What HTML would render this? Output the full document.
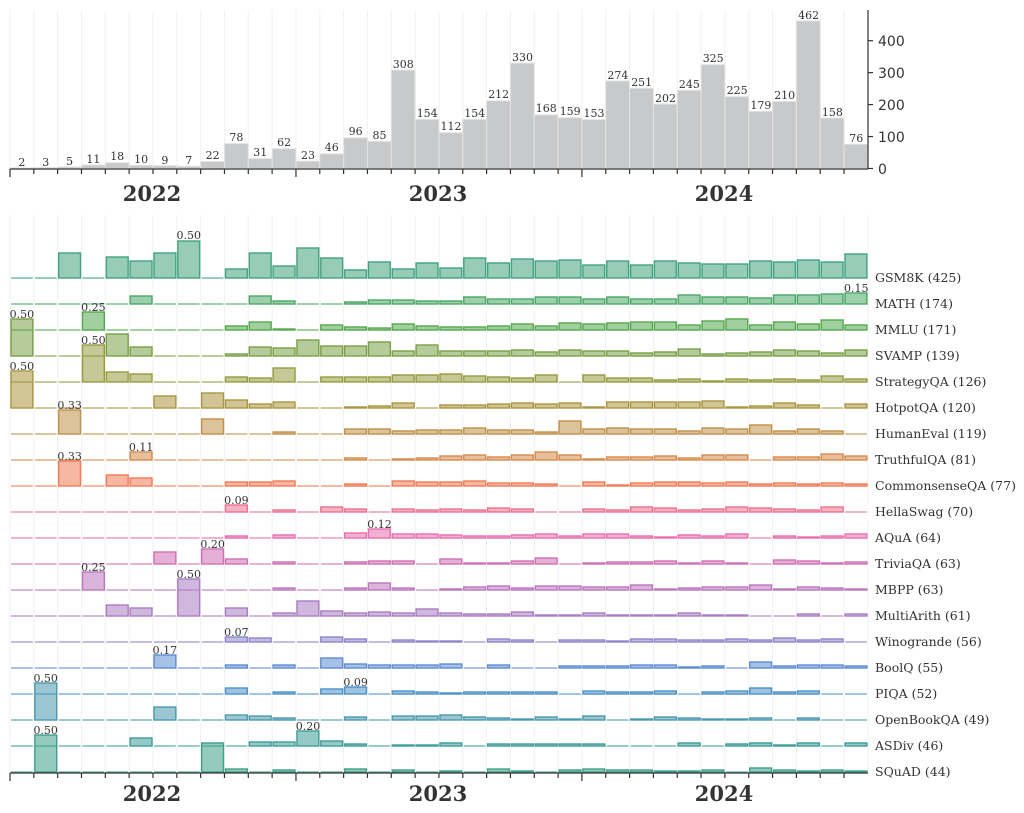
<!DOCTYPE html>
<html><head><meta charset="utf-8"><style>
html,body{margin:0;padding:0;background:#fff;}
svg{display:block;}
text{font-family:"DejaVu Serif","Liberation Serif",serif;fill:#333;}
.v{font-size:11px;text-anchor:middle;}
.r{font-size:12.5px;}
.y{font-size:21px;font-weight:bold;text-anchor:middle;}
.t{font-family:"DejaVu Sans","Liberation Sans",sans-serif;font-size:14px;}
</style></head><body>
<svg id="s" width="1024" height="813" viewBox="0 0 1024 813" xmlns="http://www.w3.org/2000/svg">
<g id="grid"></g>
<g id="top"></g>
<g id="rows"></g>
<g id="axes" stroke="#333" stroke-width="1.2" fill="none"></g>
<g>
<text class="v" x="21.9" y="166">2</text><text class="v" x="45.7" y="166">3</text><text class="v" x="69.6" y="165">5</text><text class="v" x="93.4" y="163">11</text><text class="v" x="117.2" y="160">18</text><text class="v" x="141.1" y="163">10</text><text class="v" x="164.9" y="164">9</text><text class="v" x="188.8" y="164">7</text><text class="v" x="212.6" y="159">22</text><text class="v" x="236.4" y="141">78</text><text class="v" x="260.3" y="156">31</text><text class="v" x="284.1" y="146">62</text><text class="v" x="308" y="159">23</text><text class="v" x="331.8" y="151">46</text><text class="v" x="355.6" y="135">96</text><text class="v" x="379.5" y="139">85</text><text class="v" x="403.3" y="68">308</text><text class="v" x="427.2" y="117">154</text><text class="v" x="451" y="130">112</text><text class="v" x="474.8" y="117">154</text><text class="v" x="498.7" y="98">212</text><text class="v" x="522.5" y="61">330</text><text class="v" x="546.3" y="112">168</text><text class="v" x="570.2" y="115">159</text><text class="v" x="594" y="117">153</text><text class="v" x="617.9" y="79">274</text><text class="v" x="641.7" y="86">251</text><text class="v" x="665.5" y="102">202</text><text class="v" x="689.4" y="88">245</text><text class="v" x="713.2" y="62">325</text><text class="v" x="737.1" y="94">225</text><text class="v" x="760.9" y="109">179</text><text class="v" x="784.7" y="99">210</text><text class="v" x="808.6" y="19">462</text><text class="v" x="832.4" y="116">158</text><text class="v" x="856.3" y="142">76</text>
<text class="t" x="878" y="174">0</text><text class="t" x="878" y="142">100</text><text class="t" x="878" y="110">200</text><text class="t" x="878" y="78">300</text><text class="t" x="878" y="46">400</text>
<text class="y" x="152" y="201">2022</text><text class="y" x="438" y="201">2023</text><text class="y" x="724" y="201">2024</text>
<text class="y" x="152" y="801">2022</text><text class="y" x="438" y="801">2023</text><text class="y" x="724" y="801">2024</text>
<text class="v" x="188.8" y="239">0.50</text>
<text class="v" x="856.3" y="292">0.15</text>
<text class="v" x="93.4" y="311">0.25</text>
<text class="v" x="21.9" y="318">0.50</text>
<text class="v" x="93.4" y="344">0.50</text>
<text class="v" x="21.9" y="370">0.50</text>
<text class="v" x="69.6" y="409">0.33</text>
<text class="v" x="141.1" y="451">0.11</text>
<text class="v" x="69.6" y="460">0.33</text>
<text class="v" x="236.4" y="504">0.09</text>
<text class="v" x="379.5" y="528">0.12</text>
<text class="v" x="212.6" y="548">0.20</text>
<text class="v" x="93.4" y="571">0.25</text>
<text class="v" x="188.8" y="578">0.50</text>
<text class="v" x="236.4" y="636">0.07</text>
<text class="v" x="164.9" y="654">0.17</text>
<text class="v" x="355.6" y="686">0.09</text>
<text class="v" x="45.7" y="682">0.50</text>
<text class="v" x="308" y="730">0.20</text>
<text class="v" x="45.7" y="734">0.50</text>
<text class="r" x="875" y="282">GSM8K (425)</text>
<text class="r" x="875" y="308">MATH (174)</text>
<text class="r" x="875" y="334">MMLU (171)</text>
<text class="r" x="875" y="360">SVAMP (139)</text>
<text class="r" x="875" y="386">StrategyQA (126)</text>
<text class="r" x="875" y="412">HotpotQA (120)</text>
<text class="r" x="875" y="438">HumanEval (119)</text>
<text class="r" x="875" y="464">TruthfulQA (81)</text>
<text class="r" x="875" y="490">CommonsenseQA (77)</text>
<text class="r" x="875" y="516">HellaSwag (70)</text>
<text class="r" x="875" y="542">AQuA (64)</text>
<text class="r" x="875" y="568">TriviaQA (63)</text>
<text class="r" x="875" y="594">MBPP (63)</text>
<text class="r" x="875" y="620">MultiArith (61)</text>
<text class="r" x="875" y="646">Winogrande (56)</text>
<text class="r" x="875" y="672">BoolQ (55)</text>
<text class="r" x="875" y="698">PIQA (52)</text>
<text class="r" x="875" y="724">OpenBookQA (49)</text>
<text class="r" x="875" y="750">ASDiv (46)</text>
<text class="r" x="875" y="776">SQuAD (44)</text>
</g>
</svg>
<script>
(function(){
var NS="http://www.w3.org/2000/svg";
function el(t,a,p){var e=document.createElementNS(NS,t);for(var k in a)e.setAttribute(k,a[k]);p.appendChild(e);return e;}
var X0=10,W=23.83;
var grid=document.getElementById('grid'),top=document.getElementById('top'),rows=document.getElementById('rows'),ax=document.getElementById('axes');
for(var i=0;i<=36;i++){var x=X0+W*i;
 el('line',{x1:x,x2:x,y1:10,y2:168,stroke:'#f1f1f1','stroke-width':1},grid);
 el('line',{x1:x,x2:x,y1:215,y2:772,stroke:'#f1f1f1','stroke-width':1},grid);}
var tv=[2,3,5,11,18,10,9,7,22,78,31,62,23,46,96,85,308,154,112,154,212,330,168,159,153,274,251,202,245,325,225,179,210,462,158,76];
for(var i=0;i<36;i++){var h=tv[i]*0.3195;el('rect',{x:X0+W*i,y:168.5-h,width:W,height:h,fill:'#c8c9ca',stroke:'#e4e4e4','stroke-width':1},top);}
var D=[
[0,0,25,0,21,17,25,37,0,9,25,12,30,20,8,16,9,15,10,20,15,19,17,18,13,17,13,17,15,14,14,17,16,18,16,24],
[0,0,0,0,0,8,0,0,0,0,8,3,0,0,2,4,4,3,3,7,5,5,7,7,5,7,5,5,9,7,7,6,9,9,10,11],
[0,0,0,18,0,0,0,0,0,4,8,1,0,5,3,2,6,4,3,3,4,6,4,7,6,7,8,8,5,9,11,5,8,6,10,5],
[37,0,0,0,22,9,0,0,0,2,9,8,16,10,10,14,5,11,5,5,5,6,4,6,5,5,3,4,7,2,3,4,6,5,3,6],
[0,0,0,37,10,8,0,0,0,5,4,14,0,5,5,5,7,7,8,6,5,4,7,0,7,4,4,2,3,1,3,2,3,2,6,3],
[37,0,0,0,0,0,12,0,15,8,4,6,0,0,1,2,5,0,3,3,4,5,4,5,1,6,6,6,6,7,1,2,5,3,0,4],
[0,0,24,0,0,0,0,0,15,0,0,2,0,0,5,5,3,4,4,6,4,4,2,13,5,6,5,5,3,6,5,9,3,5,3,0],
[0,0,0,0,0,8,0,0,0,0,0,0,0,0,2,0,1,2,4,5,3,5,8,5,1,3,3,4,2,5,5,0,3,3,6,4],
[0,0,25,0,11,8,0,0,0,4,4,5,0,0,2,0,5,4,4,5,3,3,2,0,4,1,3,4,4,3,4,2,3,2,3,2],
[0,0,0,0,0,0,0,0,0,7,0,2,0,5,3,0,3,2,3,2,4,3,0,0,3,2,5,4,2,3,5,4,3,2,5,0],
[0,0,0,0,0,0,0,0,0,2,0,3,0,0,5,9,4,4,3,2,2,3,4,2,4,4,2,1,3,2,4,0,2,1,2,4],
[0,0,0,0,0,0,12,0,15,5,0,2,0,0,2,3,3,0,5,1,1,3,6,0,1,2,2,3,1,3,1,0,4,3,1,2],
[0,0,0,18,0,0,0,0,0,0,0,2,0,0,2,7,2,0,1,3,4,2,4,4,3,3,5,1,2,3,3,5,1,3,2,1],
[0,0,0,0,11,8,0,37,0,8,0,3,15,5,3,4,3,7,3,2,2,4,1,1,3,1,1,1,3,1,1,0,0,2,0,2],
[0,0,0,0,0,0,0,0,0,5,4,0,0,5,3,0,2,1,1,0,3,2,0,2,2,1,3,3,2,2,3,2,4,2,3,0],
[0,0,0,0,0,0,13,0,0,3,0,3,0,10,4,3,3,3,4,0,3,0,0,2,2,2,3,3,1,2,0,6,2,3,3,2],
[0,0,0,0,0,0,0,0,0,6,0,2,0,5,7,0,3,2,1,2,2,2,2,0,3,2,2,3,0,2,3,6,2,3,0,0],
[0,37,0,0,0,0,13,0,0,5,4,2,0,0,3,0,4,4,5,3,2,1,3,1,4,0,1,3,2,1,1,2,0,2,0,0],
[0,0,0,0,0,8,0,0,0,0,4,4,15,5,2,0,1,1,3,0,2,2,2,2,2,0,0,0,3,0,2,3,1,3,0,3],
[0,37,0,0,0,0,0,0,29,3,0,2,0,0,3,0,2,0,1,0,3,1,0,2,3,2,2,1,1,2,0,4,2,1,2,1]];
var C=['#42a380','#4aa866','#56a84e','#79a046','#979b3e','#ab9640','#c1914a','#d68a4c','#f07b55','#ec7290','#e86fae','#d070b4','#bb77bb','#aa7cc2','#8d86cb','#5f8cd2','#4c92c8','#4a99ad','#3e9d9a','#3ea08a'];
for(var r=0;r<20;r++){var b=278+26*r,g=el('g',{},rows);
 for(var i=0;i<36;i++){var h=D[r][i],x=X0+W*i+1,w=W-2;
  if(h>0)el('rect',{x:x,y:b-h,width:w,height:h,fill:C[r],'fill-opacity':0.55,stroke:C[r],'stroke-width':1.4},g);
  else el('line',{x1:x,x2:x+w,y1:b,y2:b,stroke:C[r],'stroke-width':1.3,'stroke-opacity':0.85},g);}}
// axes
el('line',{x1:10,x2:868,y1:169,y2:169},ax);
el('line',{x1:868,x2:868,y1:10,y2:169},ax);
for(var v=0;v<=400;v+=100){var y=168.5-v*0.3195;el('line',{x1:868,x2:873,y1:y,y2:y},ax);}
el('line',{x1:10,x2:868,y1:773,y2:773},ax);
for(var i=0;i<=36;i++){var x=X0+W*i,L=(i%12==0)?8:5;
 if(i<36){el('line',{x1:x,x2:x,y1:169,y2:169+L},ax);el('line',{x1:x,x2:x,y1:773,y2:773+L},ax);}}
})();
</script>
</body></html>
